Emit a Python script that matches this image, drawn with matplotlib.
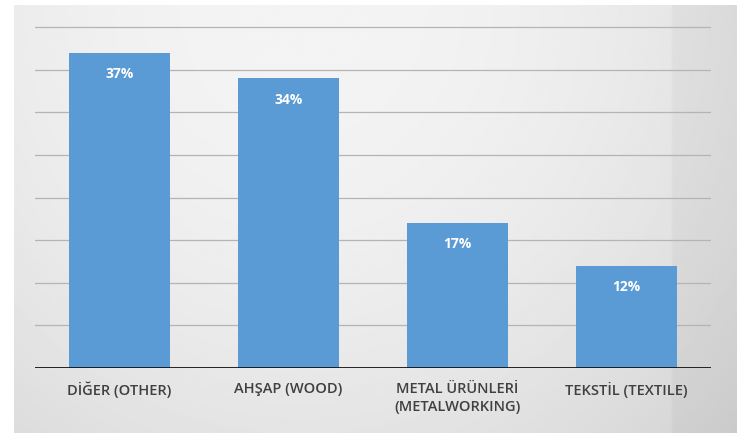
import matplotlib

matplotlib.use("Agg")
import matplotlib.pyplot as plt
import numpy as np

# ---- data ----
categories = ["DİĞER (OTHER)", "AHŞAP (WOOD)", "METAL ÜRÜNLERİ\n(METALWORKING)", "TEKSTİL (TEXTILE)"]
shares = [37, 34, 17, 12]
grid_ticks = [5, 10, 15, 20, 25, 30, 35, 40]

BLUE = "#5b9bd5"
TEXT = "#404040"

plt.rcParams["font.family"] = ["Open Sans", "DejaVu Sans"]

fig = plt.figure(figsize=(7.37, 4.33), dpi=100)
fig.patch.set_facecolor("white")

# soft grey photo-like backdrop
bg = fig.add_axes([14 / 737, 0, 1 - 14 / 737, 428 / 433], zorder=0)
gx, gy = np.meshgrid(np.linspace(0, 1, 300), np.linspace(0, 1, 200))
shade = 0.955 - 0.07 * ((gx - 0.4) / 0.6) ** 2 - 0.06 * (1 - gy) ** 2
shade[:, gx[0] > 0.91] -= 0.03
bg.imshow(shade, cmap="gray", vmin=0, vmax=1, aspect="auto", extent=(0, 1, 0, 1),
          origin="lower", interpolation="bilinear")
bg.axis("off")

ax = fig.add_axes([35 / 737, 65 / 433, 676 / 737, 362 / 433], zorder=1)
ax.patch.set_alpha(0)
x = np.arange(len(categories))
bars = ax.bar(x, shares, width=0.6, color=BLUE, zorder=3)

for b, v in zip(bars, shares):
    ax.text(b.get_x() + b.get_width() / 2, v - 2.5, f"{v}%", ha="center", va="center",
            color="white", fontsize=10, fontweight="bold", zorder=4)

for g in grid_ticks:
    ax.axhline(g, color="#b4b4b4", lw=0.9, zorder=1)
ax.axhline(0, color="#111111", lw=2, zorder=5)

ax.set_xlim(-0.5, 3.5)
ax.set_ylim(0, 42.5)
ax.set_yticks([])
ax.set_xticks(x)
ax.set_xticklabels(categories, fontsize=10.5, color=TEXT, fontweight="semibold",
                   linespacing=1.35)
ax.tick_params(axis="x", length=0, pad=10)
for s in ax.spines.values():
    s.set_visible(False)

fig.savefig("out.png", dpi=100)
